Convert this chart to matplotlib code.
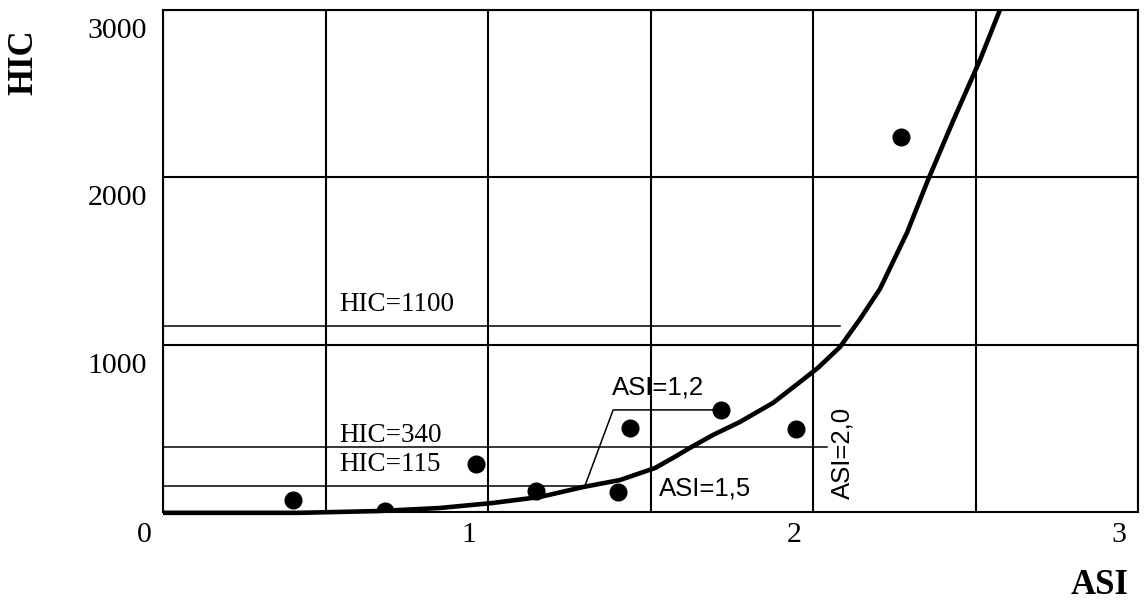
import matplotlib
matplotlib.use("Agg")
import matplotlib.pyplot as plt
from matplotlib.transforms import ScaledTranslation

# measured points (ASI, HIC)
pts_asi = [0.40, 0.683, 0.963, 1.148, 1.40, 1.437, 1.717, 1.948, 2.271]
pts_hic = [72, 6, 287, 126, 120, 502, 610, 496, 2241]

# fitted curve
curve_asi = [0.0, 0.42, 0.668, 0.852, 1.015, 1.160, 1.292, 1.406, 1.514, 1.569,
             1.631, 1.692, 1.775, 1.877, 1.960, 2.015, 2.083, 2.145, 2.206, 2.289,
             2.354, 2.431, 2.514, 2.575]
curve_hic = [-5, -5, 6, 24, 54, 90, 149, 191, 263, 323,
             394, 460, 538, 652, 777, 861, 986, 1154, 1333, 1668,
             1985, 2337, 2702, 3000]

# threshold lines: (HIC level, end ASI, label)
hic_levels = [1112, 389, 155]
hic_ends = [2.083, 2.043, 1.298]
hic_labels = ["HIC=1100", "HIC=340", "HIC=115"]
hic_label_y = [1243, 460, 281]

x_ticks = [0, 1, 2, 3]
y_ticks = [1000, 2000, 3000]

serif = ["Liberation Serif", "DejaVu Serif"]
sans = ["Liberation Sans", "DejaVu Sans"]

fig = plt.figure(figsize=(11.45, 6.03), dpi=100)
ax = fig.add_axes([163/1145, 91/603, 975/1145, 502/603])
ax.set_xlim(0, 3)
ax.set_ylim(0, 3000)

for s in ax.spines.values():
    s.set_linewidth(1.5)

ax.set_xticks(x_ticks)
ax.set_xticks([0.5, 1.5, 2.5], minor=True)
ax.set_yticks(y_ticks)
ax.tick_params(which="both", length=0)
ax.tick_params(axis="x", pad=7)
ax.tick_params(axis="y", pad=11.5)
ax.set_xticklabels([str(v) for v in x_ticks], fontfamily=serif, fontsize=21.5)
ax.set_yticklabels([str(v) for v in y_ticks], fontfamily=serif, fontsize=21.5)
for lab in ax.get_xticklabels():
    lab.set_transform(lab.get_transform() + ScaledTranslation(-0.19, 0, fig.dpi_scale_trans))
for lab in ax.get_yticklabels():
    lab.set_transform(lab.get_transform() + ScaledTranslation(0, -0.18, fig.dpi_scale_trans))

ax.grid(True, which="both", axis="x", color="black", lw=1.5)
ax.grid(True, which="major", axis="y", color="black", lw=1.5)
ax.set_axisbelow(True)

for lev, end, lab, ly in zip(hic_levels, hic_ends, hic_labels, hic_label_y):
    ax.plot([0, end], [lev, lev], color="black", lw=1.1)
    ax.text(0.542, ly, lab, fontfamily=serif, fontsize=19.5, va="center", ha="left")

# ASI=1,2 callout
ax.plot([1.298, 1.385, 1.705], [155, 610, 610], color="black", lw=1.1)
ax.text(1.382, 747, "ASI=1,2", fontfamily=sans, fontsize=18.5, va="center", ha="left")
ax.text(1.526, 143, "ASI=1,5", fontfamily=sans, fontsize=18.5, va="center", ha="left")
ax.text(2.092, 353, "ASI=2,0", fontfamily=sans, fontsize=18.5, va="center", ha="center",
        rotation=90)

ax.plot(curve_asi, curve_hic, color="black", lw=3.3, solid_joinstyle="round",
        solid_capstyle="butt", clip_on=False)
ax.plot(pts_asi, pts_hic, "o", color="black", ms=12, zorder=5)

fig.text(24/1145, 1 - 62/603, "HIC", rotation=90, fontfamily=serif, fontweight="bold",
         fontsize=25, ha="center", va="center")
fig.text(1100/1145, 1 - 586/603, "ASI", fontfamily=serif, fontweight="bold",
         fontsize=25, ha="center", va="center")

fig.savefig("out.png", dpi=100)
